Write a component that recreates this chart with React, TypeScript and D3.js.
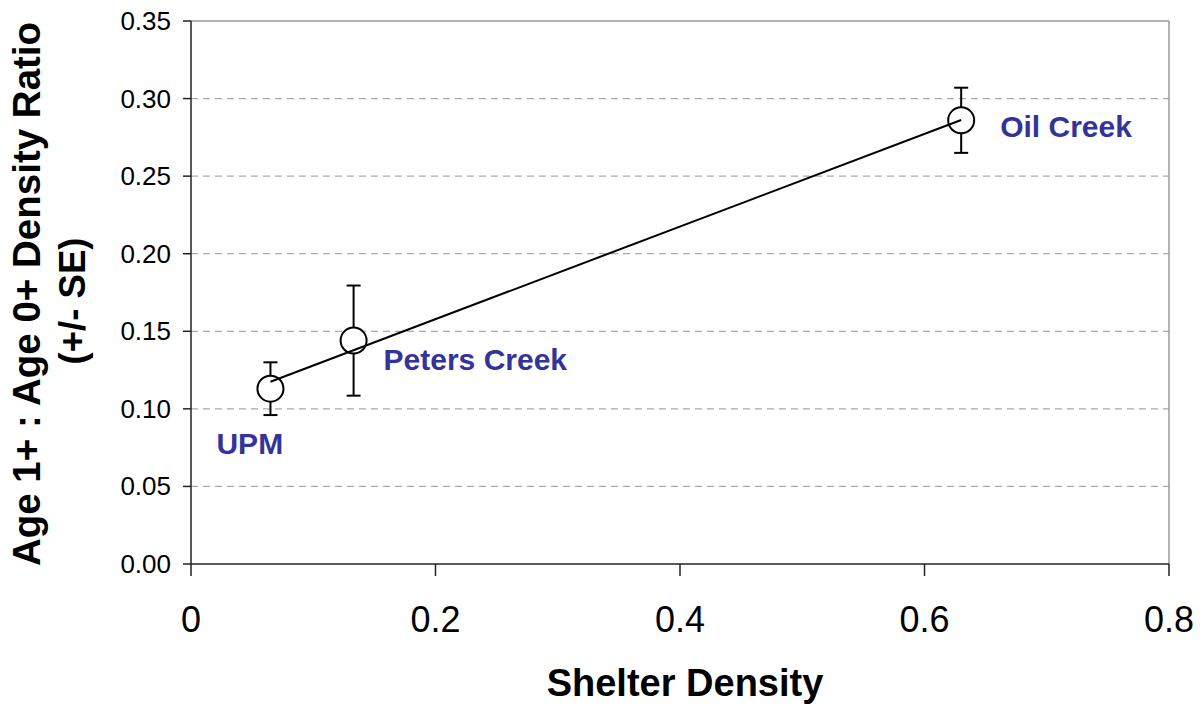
import React from "react";
import * as d3 from "d3";

// site values
const sites = ["UPM", "Peters Creek", "Oil Creek"];
const shelterDensity = [0.065, 0.133, 0.63];
const densityRatio = [0.113, 0.144, 0.286];
const ratioSE = [0.017, 0.0355, 0.021];

// fitted trend line end points
const trendX = [0.065, 0.63];
const trendY = [0.1175, 0.2862];

const xTicks = [0, 0.2, 0.4, 0.6, 0.8];
const yTicks = [0, 0.05, 0.1, 0.15, 0.2, 0.25, 0.3, 0.35];

// label offsets from the point centre (px)
const labelOffset = [
  { dx: -54, dy: 65 },
  { dx: 30, dy: 29 },
  { dx: 39, dy: 17 },
];

const App = () => {
  const width = 1203;
  const height = 707;
  const margin = { top: 21, right: 34, bottom: 143, left: 191 };

  const x = d3.scaleLinear().domain([0, 0.8]).range([margin.left, width - margin.right]);
  const y = d3.scaleLinear().domain([0, 0.35]).range([height - margin.bottom, margin.top]);

  const font = "'Liberation Sans', Arial, sans-serif";
  const labelColor = "#333399";

  const trendLine = d3
    .line<number>()
    .x((d) => x(d))
    .y((_, i) => y(trendY[i]));

  return (
    <svg
      width={width}
      height={height}
      style={{ position: "absolute", left: 0, top: 0, background: "#fff" }}
      fontFamily={font}
    >
      {/* grid lines */}
      {yTicks
        .filter((t) => t > 0 && t < 0.35)
        .map((t) => (
          <line
            key={t}
            x1={x(0)}
            x2={x(0.8)}
            y1={y(t)}
            y2={y(t)}
            stroke="#aaaaaa"
            strokeWidth={1.2}
            strokeDasharray="7,5"
          />
        ))}

      {/* frame: top and right in grey */}
      <line x1={x(0)} x2={x(0.8)} y1={y(0.35)} y2={y(0.35)} stroke="#999" strokeWidth={1.5} />
      <line x1={x(0.8)} x2={x(0.8)} y1={y(0.35)} y2={y(0)} stroke="#999" strokeWidth={1.5} />

      {/* axes */}
      <line x1={x(0)} x2={x(0)} y1={y(0.35)} y2={y(0)} stroke="#222" strokeWidth={1.5} />
      <line x1={x(0)} x2={x(0.8)} y1={y(0)} y2={y(0)} stroke="#222" strokeWidth={1.5} />

      {yTicks.map((t) => (
        <g key={t}>
          <line x1={x(0) - 8} x2={x(0)} y1={y(t)} y2={y(t)} stroke="#222" strokeWidth={1.5} />
          <text x={x(0) - 20} y={y(t) + 9} textAnchor="end" fontSize={26} fill="#000">
            {d3.format(".2f")(t)}
          </text>
        </g>
      ))}

      {xTicks.map((t) => (
        <g key={t}>
          <line x1={x(t)} x2={x(t)} y1={y(0)} y2={y(0) + 12} stroke="#222" strokeWidth={1.5} />
          <text x={x(t)} y={632} textAnchor="middle" fontSize={36} fill="#000">
            {t === 0 ? "0" : d3.format(".1f")(t)}
          </text>
        </g>
      ))}

      {/* error bars */}
      {sites.map((s, i) => {
        const cx = x(shelterDensity[i]);
        const top = y(densityRatio[i] + ratioSE[i]);
        const bot = y(densityRatio[i] - ratioSE[i]);
        return (
          <g key={s} stroke="#000" strokeWidth={2}>
            <line x1={cx} x2={cx} y1={top} y2={bot} />
            <line x1={cx - 7} x2={cx + 7} y1={top} y2={top} />
            <line x1={cx - 7} x2={cx + 7} y1={bot} y2={bot} />
          </g>
        );
      })}

      {/* points */}
      {sites.map((s, i) => (
        <circle
          key={s}
          cx={x(shelterDensity[i])}
          cy={y(densityRatio[i])}
          r={13}
          fill="#fff"
          stroke="#000"
          strokeWidth={2}
        />
      ))}

      {/* trend line */}
      <path d={trendLine(trendX) || ""} fill="none" stroke="#000" strokeWidth={2} />

      {/* site labels */}
      {sites.map((s, i) => (
        <text
          key={s}
          x={x(shelterDensity[i]) + labelOffset[i].dx}
          y={y(densityRatio[i]) + labelOffset[i].dy}
          fontSize={30}
          fontWeight="bold"
          fill={labelColor}
        >
          {s}
        </text>
      ))}

      {/* axis titles */}
      <text x={685} y={696} textAnchor="middle" fontSize={38} fontWeight="bold" fill="#000">
        Shelter Density
      </text>
      <text
        transform="translate(40,294) rotate(-90)"
        textAnchor="middle"
        fontSize={38.5}
        fontWeight="bold"
        fill="#000"
      >
        Age 1+ : Age 0+ Density Ratio
      </text>
      <text
        transform="translate(85,301) rotate(-90)"
        textAnchor="middle"
        fontSize={36.5}
        fontWeight="bold"
        fill="#000"
      >
        (+/- SE)
      </text>
    </svg>
  );
};

export default App;
